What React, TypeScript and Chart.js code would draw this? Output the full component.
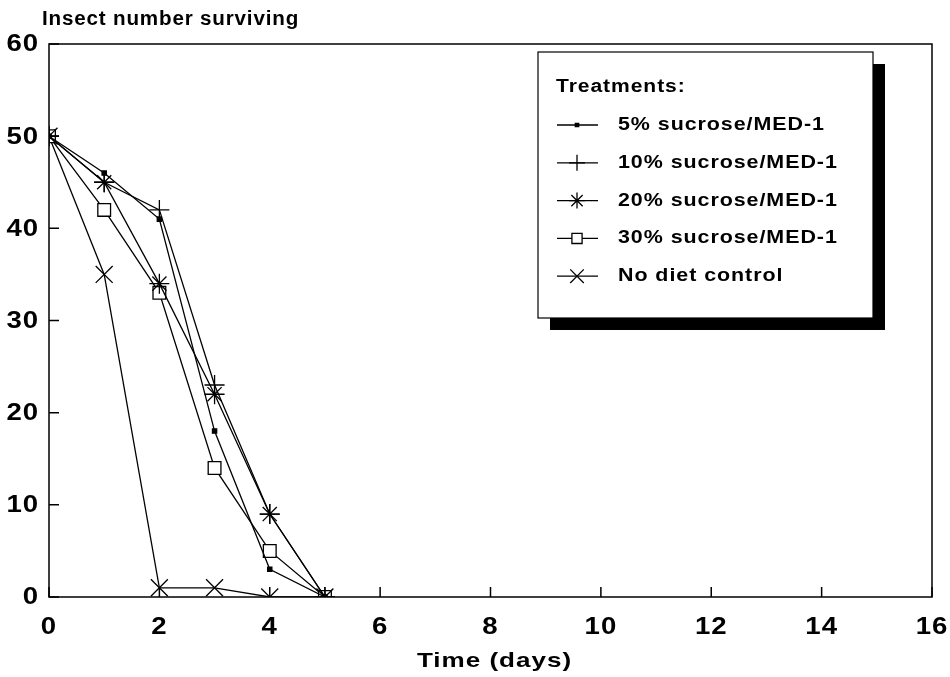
import React, { useEffect, useRef } from "react";
import { Chart, registerables } from "chart.js";

Chart.register(...registerables);

const days = [0, 1, 2, 3, 4, 5];
const sucrose5 = [50, 46, 41, 18, 3, 0];
const sucrose10 = [50, 45, 42, 23, 9, 0];
const sucrose20 = [50, 45, 34, 22, 9, 0];
const sucrose30 = [50, 42, 33, 14, 5, 0];
const noDiet = [50, 35, 1, 1, 0, 0];

const xTicks = [0, 2, 4, 6, 8, 10, 12, 14, 16];
const yTicks = [0, 10, 20, 30, 40, 50, 60];

const seriesLabels = [
  "5% sucrose/MED-1",
  "10% sucrose/MED-1",
  "20% sucrose/MED-1",
  "30% sucrose/MED-1",
  "No diet control",
];
const legendTitle = "Treatments:";
const yTitle = "Insect number surviving";
const xTitle = "Time (days)";

const FONT = "'Liberation Sans', Arial, sans-serif";

const styles = [
  { pointStyle: "rect", radius: 3, bg: "#000" },
  { pointStyle: "cross", radius: 10, bg: "#000" },
  { pointStyle: "star", radius: 10, bg: "#000" },
  { pointStyle: "rect", radius: 9, bg: "#fff" },
  { pointStyle: "crossRot", radius: 12, bg: "#000" },
];

// draw horizontally stretched, slightly spaced text (the original uses a wide typeface)
function wideText(
  ctx: any,
  text: string,
  x: number,
  y: number,
  size: number,
  sx: number,
  align: "left" | "center" | "right",
  spacing = 0.8
) {
  ctx.save();
  ctx.font = `bold ${size}px ${FONT}`;
  ctx.textBaseline = "middle";
  ctx.textAlign = align;
  try {
    ctx.letterSpacing = `${spacing}px`;
  } catch (e) {}
  ctx.translate(x, y);
  ctx.scale(sx, 1);
  ctx.fillText(text, 0, 0);
  ctx.restore();
}

function drawPointHelper(ctx: any, style: string, r: number, x: number, y: number) {
  ctx.beginPath();
  if (style === "rect") {
    const s = Math.SQRT1_2 * r;
    ctx.rect(x - s, y - s, 2 * s, 2 * s);
    ctx.fill();
    ctx.stroke();
    return;
  }
  const d = Math.cos(Math.PI / 4) * r;
  if (style === "cross" || style === "star") {
    ctx.moveTo(x - r, y);
    ctx.lineTo(x + r, y);
    ctx.moveTo(x, y - r);
    ctx.lineTo(x, y + r);
  }
  if (style === "crossRot" || style === "star") {
    ctx.moveTo(x - d, y - d);
    ctx.lineTo(x + d, y + d);
    ctx.moveTo(x - d, y + d);
    ctx.lineTo(x + d, y - d);
  }
  ctx.stroke();
}

const frameAndLegend = {
  id: "frameAndLegend",
  afterDatasetsDraw(chart: any) {
    const { ctx, chartArea, scales } = chart;
    const { left, right, top, bottom } = chartArea;
    ctx.save();
    ctx.strokeStyle = "#000";
    ctx.fillStyle = "#000";
    ctx.lineWidth = 1.5;
    ctx.strokeRect(left, top, right - left, bottom - top);
    // inward tick marks
    ctx.beginPath();
    yTicks.forEach((v) => {
      const y = scales.y.getPixelForValue(v);
      ctx.moveTo(left, y);
      ctx.lineTo(left + 10, y);
    });
    xTicks.forEach((v) => {
      const x = scales.x.getPixelForValue(v);
      ctx.moveTo(x, bottom);
      ctx.lineTo(x, bottom - 10);
    });
    ctx.stroke();

    // tick labels
    yTicks.forEach((v) => {
      wideText(ctx, String(v), left - 10, scales.y.getPixelForValue(v) + 1, 23, 1.2, "right");
    });
    xTicks.forEach((v) => {
      wideText(ctx, String(v), scales.x.getPixelForValue(v), bottom + 31, 23, 1.2, "center");
    });
    // axis titles
    wideText(ctx, yTitle, left - 7, top - 25, 20, 1.03, "left");
    wideText(ctx, xTitle, (left + right) / 2 + 4, bottom + 64, 21, 1.24, "center");

    // legend box
    const bx = 538, by = 52, bw = 335, bh = 266;
    ctx.fillStyle = "#000";
    ctx.fillRect(bx + 12, by + 12, bw, bh);
    ctx.fillStyle = "#fff";
    ctx.fillRect(bx, by, bw, bh);
    ctx.lineWidth = 1.2;
    ctx.strokeRect(bx, by, bw, bh);
    ctx.fillStyle = "#000";
    wideText(ctx, legendTitle, 556, 87, 18, 1.17, "left");
    seriesLabels.forEach((lab, i) => {
      const y = 125 + i * 37.8;
      ctx.strokeStyle = "#000";
      ctx.lineWidth = 1.3;
      ctx.beginPath();
      ctx.moveTo(557, y);
      ctx.lineTo(598, y);
      ctx.stroke();
      const s = styles[i];
      ctx.fillStyle = s.bg;
      drawPointHelper(ctx, s.pointStyle, s.radius * 0.8, 577, y);
      ctx.fillStyle = "#000";
      wideText(ctx, lab, 618, y, 18, 1.19, "left");
    });
    ctx.restore();
  },
};

export default function App() {
  const ref = useRef<HTMLCanvasElement>(null);
  useEffect(() => {
    document.body.style.margin = "0";
    const all = [sucrose5, sucrose10, sucrose20, sucrose30, noDiet];
    const chart = new Chart(ref.current!, {
      type: "line",
      data: {
        datasets: all.map((vals, i) => ({
          label: seriesLabels[i],
          data: days.map((d, j) => ({ x: d, y: vals[j] })),
          borderColor: "#000",
          borderWidth: 1.3,
          pointStyle: styles[i].pointStyle as any,
          pointRadius: styles[i].radius,
          pointBorderColor: "#000",
          pointBackgroundColor: styles[i].bg,
          pointBorderWidth: 1.3,
          tension: 0,
          fill: false,
        })),
      },
      options: {
        animation: false,
        responsive: false,
        maintainAspectRatio: false,
        layout: { padding: { left: 0, right: 18, top: 44, bottom: 0 } },
        plugins: { legend: { display: false }, title: { display: false }, tooltip: { enabled: false } },
        scales: {
          x: {
            type: "linear",
            min: 0,
            max: 16,
            grid: { display: false, drawTicks: false },
            border: { display: false },
            ticks: { display: false, stepSize: 2 },
            title: { display: false, text: xTitle },
            afterFit: (s: any) => {
              s.height = 80;
              s.paddingLeft = 0;
              s.paddingRight = 0;
            },
          },
          y: {
            min: 0,
            max: 60,
            grid: { display: false, drawTicks: false },
            border: { display: false },
            ticks: { display: false, stepSize: 10 },
            afterFit: (s: any) => {
              s.width = 49;
              s.paddingTop = 0;
              s.paddingBottom = 0;
            },
          },
        },
      },
      plugins: [frameAndLegend],
    });
    return () => chart.destroy();
  }, []);
  return (
    <div style={{ position: "absolute", left: 0, top: 0, width: 950, height: 677, background: "#fff" }}>
      <canvas ref={ref} width={950} height={677} style={{ display: "block" }} />
    </div>
  );
}
